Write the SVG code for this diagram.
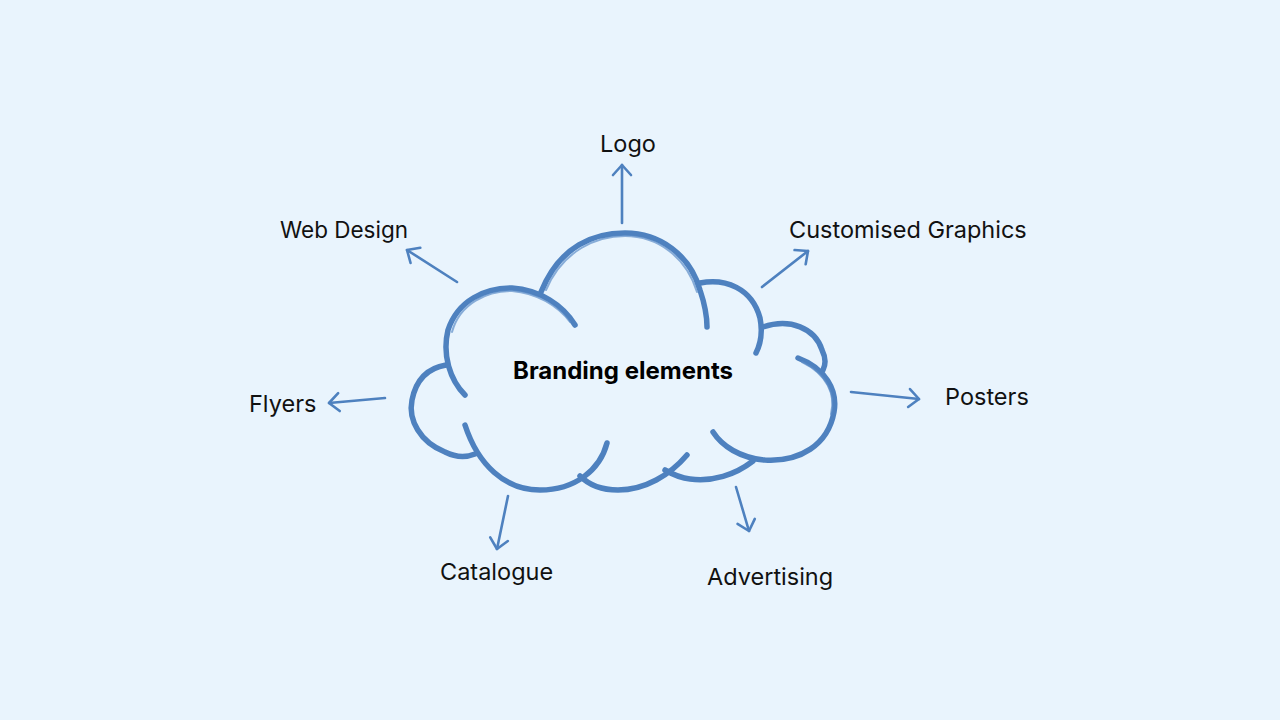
<svg xmlns="http://www.w3.org/2000/svg" width="1280" height="720" viewBox="0 0 1280 720">
<defs>
<marker id="ah" viewBox="-12 -12 24 24" markerWidth="24" markerHeight="24" markerUnits="userSpaceOnUse" refX="0" refY="0" orient="auto">
<path d="M-10,-9 L0,0 L-10,9" fill="none" stroke="#4E81BF" stroke-width="2.6" stroke-linecap="round" stroke-linejoin="round"/>
</marker>
<style>
.cl{fill:none;stroke:#4E81BF;stroke-width:5.5;stroke-linecap:round;stroke-linejoin:round}
.cl2{fill:none;stroke:#5D8DC8;stroke-width:2;stroke-linecap:round;opacity:0.7}
.ar{fill:none;stroke:#4E81BF;stroke-width:2.6;stroke-linecap:round;marker-end:url(#ah)}
.t{font-family:Inter,"Liberation Sans",sans-serif;font-size:23.5px;fill:#111}
.b{font-family:Inter,"Liberation Sans",sans-serif;font-size:24px;font-weight:700;fill:#000}
</style>
</defs>
<rect width="1280" height="720" fill="#E9F4FD"/>
<g id="cloud">
<path class="cl" d="M541,292 C560,245 595,233 625,233 C660,233 690,255 700,290 C705,305 707,315 707,327"/>
<path class="cl" d="M700,283 C725,278 752,288 760,318 C763,333 760,345 756,353"/>
<path class="cl" d="M763,327 C790,318 815,328 822,350 C826,358 826,364 823,370"/>
<path class="cl" d="M798,358 C825,368 838,390 834,412 C828,445 800,462 765,460 C740,458 722,446 713,432"/>
<path class="cl" d="M753,461 C735,475 712,482 690,479 C680,478 672,474 665,470"/>
<path class="cl" d="M687,455 C670,475 645,490 618,490 C600,490 588,484 580,476"/>
<path class="cl" d="M607,443 C600,470 575,490 540,490 C505,490 478,465 465,425"/>
<path class="cl" d="M475,454 C465,458 455,457 445,452 C420,442 408,420 412,400 C416,380 428,368 446,365"/>
<path class="cl" d="M465,395 C450,380 442,355 448,330 C458,300 485,288 512,288 C540,290 563,305 575,325"/>
<path class="cl2" d="M546,290 C563,250 597,236 625,236 C658,236 686,257 697,292"/>
<path class="cl2" d="M452,332 C460,303 487,291 512,291 C537,293 558,306 570,322"/>
<path class="cl2" d="M802,362 C827,374 836,395 831,414"/>
</g>
<g id="connectors">
<path class="ar" d="M622,223 L622,165"/>
<path class="ar" d="M762,287 L808,251"/>
<path class="ar" d="M457,282 L407,250"/>
<path class="ar" d="M385,398 L329,403"/>
<path class="ar" d="M851,392 L919,399"/>
<path class="ar" d="M508,496 L497,549"/>
<path class="ar" d="M736,487 L749,531"/>
</g>
<g id="center"><text class="b" x="623" y="379" text-anchor="middle">Branding elements</text></g>
<g id="logo"><text class="t" x="628" y="152" text-anchor="middle">Logo</text></g>
<g id="web-design"><text class="t" x="280" y="238" style="font-size:22.5px">Web Design</text></g>
<g id="customised-graphics"><text class="t" x="789" y="238">Customised Graphics</text></g>
<g id="flyers"><text class="t" x="249" y="412">Flyers</text></g>
<g id="posters"><text class="t" x="945" y="405">Posters</text></g>
<g id="catalogue"><text class="t" x="440" y="580">Catalogue</text></g>
<g id="advertising"><text class="t" x="707" y="585">Advertising</text></g>
</svg>
